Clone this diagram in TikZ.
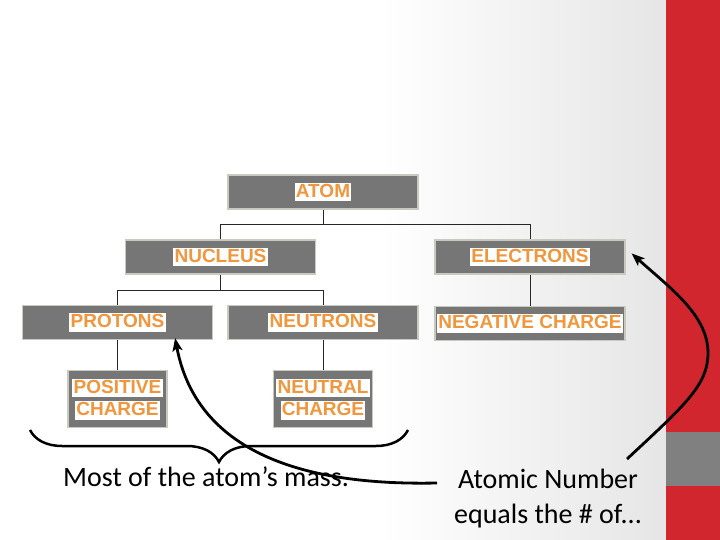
\documentclass[tikz,border=0pt]{standalone}
\usepackage{fontspec}
\setmainfont{Carlito}
\newfontfamily\boxfont{Liberation Sans}
\usetikzlibrary{positioning,arrows.meta,decorations.pathreplacing}
\definecolor{slidered}{HTML}{D1262D}
\definecolor{boxgray}{HTML}{767676}
\definecolor{boxedge}{HTML}{C9C9C0}
\definecolor{labelorange}{HTML}{F0963C}
\newcommand{\hilite}[1]{{\setlength{\fboxsep}{1.2pt}\colorbox{white}{\rule[-3pt]{0pt}{16.5pt}#1}}}

\begin{document}
\begin{tikzpicture}[x=1pt, y=-1pt, node distance=30pt]
\tikzset{
  box/.style={draw=boxedge, line width=1.2pt, fill=boxgray, minimum width=190pt, minimum height=34pt, inner sep=0pt, align=center, text=labelorange, font=\boxfont\bfseries\fontsize{19}{22.5}\selectfont},
  smallbox/.style={box, minimum width=99pt, minimum height=57pt},
  link/.style={line width=1pt, black!85},
  arrow/.style={-{Stealth[length=13pt, width=10pt, inset=3pt]}, line width=2.8pt},
  note/.style={font=\fontsize{28}{35}\selectfont, align=center, inner sep=0pt}
}

% Background
\useasboundingbox (0,0) rectangle (720,540);
\fill[white] (0,0) rectangle (666,540);
\shade[left color=white, right color=gray!20] (380,0) rectangle (666,540);
\fill[slidered] (666,0) rectangle (720,540);
\fill[gray] (666,432) rectangle (720,486);

% Nodes
\node[box] (atom) at (323,192) {\hilite{ATOM}};
\node[box] (nucleus) at (220.5,257) {\hilite{NUCLEUS}};
\node[box] (electrons) at (530,257) {\hilite{ELECTRONS}};
\node[box] (protons) at (117.5,322.5) {\hilite{PROTONS}};
\node[box] (neutrons) at (323,322.5) {\hilite{NEUTRONS}};
\node[box, below=31pt of electrons] (negative) {\hilite{NEGATIVE CHARGE}};
\node[smallbox, below=30pt of protons] (positive) {\hilite{POSITIVE}\\\hilite{CHARGE}};
\node[smallbox, below=30pt of neutrons] (neutral) {\hilite{NEUTRAL}\\\hilite{CHARGE}};

\node[note, anchor=base west] (mass) at (63,486) {Most of the atom’s mass.};
\node[note, anchor=base] (anum) at (548,523) {Atomic Number\\equals the \# of...};

% Tree lines
\coordinate (split) at ([yshift=-15pt]atom.south);
\coordinate (nsplit) at ([yshift=-16pt]nucleus.south);
\draw[link] (atom.south) -- (split);
\draw[link] (nucleus.north) |- (split) -| (electrons.north);
\draw[link] (nucleus.south) -- (nsplit);
\draw[link] (protons.north) |- (nsplit) -| (neutrons.north);
\draw[link] (electrons) -- (negative);
\draw[link] (protons) -- (positive);
\draw[link] (neutrons) -- (neutral);

% Brace
\coordinate (braceL) at (30,430);
\coordinate (braceR) at (408,430);
\draw[line width=2.5pt, decorate, decoration={brace, mirror, amplitude=32pt}] (braceL) -- (braceR);

% Arrows
\coordinate (massend) at (437,483);
\coordinate (numend) at (627,459);
\draw[arrow] (massend) .. controls (340,485) and (200,470) .. ([xshift=-38pt,yshift=2pt]protons.south east);
\draw[arrow] (numend) .. controls (685,405) and (708,385) .. (708,353) .. controls (708,315) and (670,288) .. ([xshift=6pt,yshift=-14pt]electrons.north east);
\end{tikzpicture}
\end{document}
